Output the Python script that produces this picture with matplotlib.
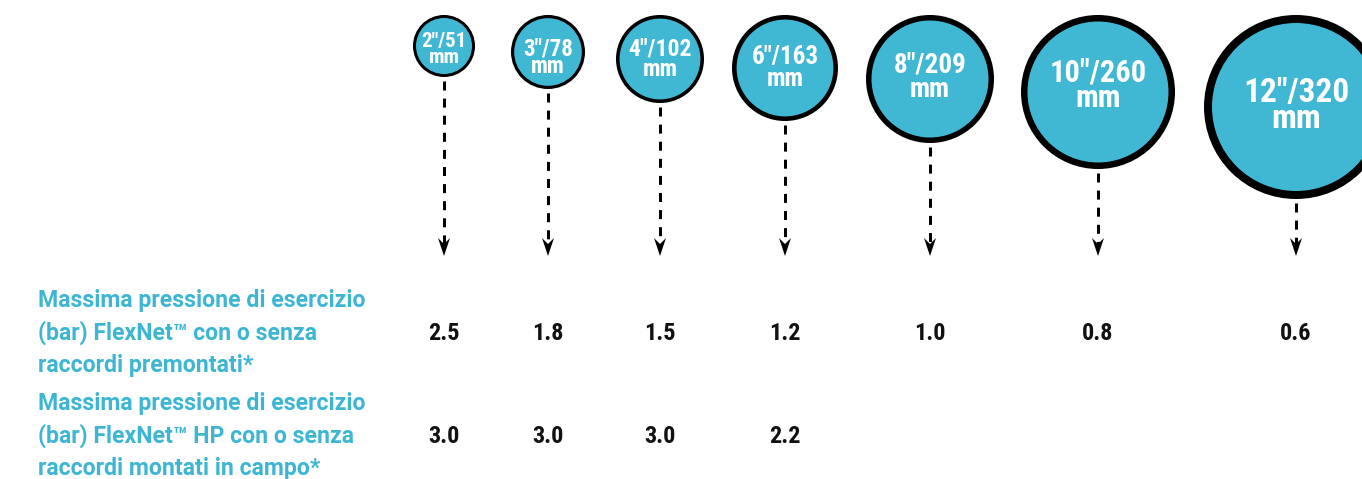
import matplotlib
matplotlib.use('Agg')
import matplotlib.pyplot as plt
from matplotlib.patches import Circle, Polygon

# data
sizes_in = ['2', '3', '4', '6', '8', '10', '12']
sizes_mm = ['51', '78', '102', '163', '209', '260', '320']
pressure_std = ['2.5', '1.8', '1.5', '1.2', '1.0', '0.8', '0.6']
pressure_hp = ['3.0', '3.0', '3.0', '2.2']
row_labels = [
    'Massima pressione di esercizio\n(bar) FlexNet\u2122 con o senza\nraccordi premontati*',
    'Massima pressione di esercizio\n(bar) FlexNet\u2122 HP con o senza\nraccordi montati in campo*',
]

# layout (pixels)
W, H = 1362, 479
cx = [444, 548, 660, 785, 930, 1098, 1296]
radius = [31, 37, 44, 53, 64, 77, 92]
edge_px = [3, 3.2, 3.6, 4.6, 5.5, 6.5, 8]
label_fs = [15, 16.5, 17, 18, 19.5, 22, 24]
base_off = [1, 3, -4, -4, -7, -11, -5]   # first text baseline relative to circle centre
mm_gap = [16, 18, 21, 22, 25, 26, 26]
circle_top = 15
arrow_tip = 256
row_base = [340, 443]
label_base = [307, 410]
line_gap = 32.5

BLUE = '#40b8d4'
TEXT_BLUE = '#3db6d4'
FONT = ['Roboto Condensed', 'Archivo Narrow', 'PT Sans Narrow', 'DejaVu Sans']
LABEL_FONT = ['Roboto', 'DejaVu Sans']

plt.rcParams['font.family'] = FONT
plt.rcParams['font.weight'] = 'bold'
plt.rcParams['font.stretch'] = 'condensed'

fig = plt.figure(figsize=(W / 100, H / 100), dpi=100)
ax = fig.add_axes([0, 0, 1, 1])
ax.set_xlim(0, W)
ax.set_ylim(H, 0)
ax.axis('off')

px = 72 / 100  # points per pixel

for i in range(len(sizes_in)):
    r = radius[i]
    x = cx[i]
    cy = circle_top + r
    ax.add_patch(Circle((x, cy), r - edge_px[i] / 2, facecolor=BLUE,
                        edgecolor='black', linewidth=edge_px[i] * px, zorder=2))
    fs = label_fs[i]
    y1 = cy + base_off[i]
    ax.text(x, y1, sizes_in[i] + '\u2033/' + sizes_mm[i], color='white',
            fontsize=fs, ha='center', va='baseline', fontweight='bold', zorder=3)
    ax.text(x, y1 + mm_gap[i], 'mm', color='white',
            fontsize=fs, ha='center', va='baseline', fontweight='bold', zorder=3)

    # dashed shaft + arrow head
    y_start = cy + r + 4
    ax.plot([x, x], [y_start, arrow_tip - 12], color='black',
            linewidth=3 * px, dashes=(3.0, 2.7), solid_capstyle='butt')
    ax.add_patch(Polygon([(x - 6, arrow_tip - 18), (x, arrow_tip - 12),
                          (x + 6, arrow_tip - 18), (x, arrow_tip)],
                         closed=True, facecolor='black', edgecolor='none'))

for i, v in enumerate(pressure_std):
    ax.text(cx[i], row_base[0], v, fontsize=17.5, ha='center', va='baseline',
            color='#111111', fontweight='bold')
for i, v in enumerate(pressure_hp):
    ax.text(cx[i], row_base[1], v, fontsize=17.5, ha='center', va='baseline',
            color='#111111', fontweight='bold')

# row labels: wider face to match the tracked lettering of the original
for k, lab in enumerate(row_labels):
    for j, line in enumerate(lab.split('\n')):
        ax.text(38, label_base[k] + j * line_gap, line, fontsize=16.6,
                family=LABEL_FONT, fontstretch='normal',
                ha='left', va='baseline', color=TEXT_BLUE, fontweight='bold')

fig.savefig('out.png', dpi=100, facecolor='white')
